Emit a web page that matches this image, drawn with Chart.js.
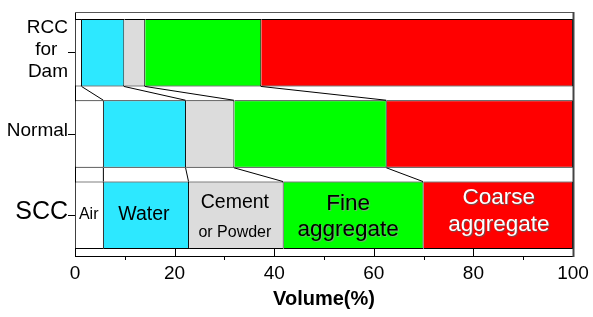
<!DOCTYPE html>
<html>
<head>
<meta charset="utf-8">
<script src="https://cdn.jsdelivr.net/npm/chart.js@4.4.1/dist/chart.umd.min.js"></script>
<style>
  html, body { margin: 0; padding: 0; background: #fff; }
  #wrap { width: 593px; height: 317px; position: relative; }
</style>
</head>
<body>
<div id="wrap"><canvas id="c"></canvas></div>
<script>
// ---- data ----
const categories = [["RCC", "for", "Dam"], "Normal", "SCC"];
const airVals    = [1.4, 5.8, 5.8];
const waterVals  = [8.5, 16.5, 17.1];
const cementVals = [4.2, 9.7, 19.0];
const fineVals   = [23.3, 30.6, 28.1];
const coarseVals = [62.6, 37.4, 30.0];
const seriesNames = ["Air", "Water", "Cement or Powder", "Fine aggregate", "Coarse aggregate"];
const xTickStep = 20;
const xMinorStep = 10;
const axisTitle = "Volume(%)";

const FONT = "'Liberation Sans', Arial, sans-serif";

// inline labels for the SCC bar
const segLabels = [
  { lines: ["Air"], sizes: [16], dy: [4], dx: -1, color: "#000", shadow: null },
  { lines: ["Water"], sizes: [19.5], dy: [4.5], dx: -2.5, color: "#000", shadow: null },
  { lines: ["Cement", "or Powder"], sizes: [19.5, 16], dy: [-7, 22], dx: -1.5, color: "#000", shadow: null },
  { lines: ["Fine", "aggregate"], sizes: [22.5, 22.5], dy: [-5, 21], dx: -5.5, color: "#000", shadow: "rgba(150,150,150,0.8)" },
  { lines: ["Coarse", "aggregate"], sizes: [22.5, 22.5], dy: [-11, 16], dx: 0.5, color: "#fff", shadow: "rgba(90,90,90,0.9)" }
];

const decorPlugin = {
  id: "decor",
  afterDatasetsDraw(chart) {
    const ctx = chart.ctx;
    const nSets = chart.data.datasets.length;
    ctx.save();
    ctx.strokeStyle = "#000";
    ctx.lineWidth = 1;
    const nCat = chart.data.labels.length;
    for (let i = 0; i < nCat - 1; i++) {
      for (let d = 0; d < nSets - 1; d++) {
        const up = chart.getDatasetMeta(d).data[i];
        const lo = chart.getDatasetMeta(d).data[i + 1];
        const pu = up.getProps(["x", "y", "height"], true);
        const pl = lo.getProps(["x", "y", "height"], true);
        ctx.beginPath();
        ctx.moveTo(pu.x - 0.5, pu.y + pu.height / 2);
        ctx.lineTo(pl.x - 0.5, pl.y - pl.height / 2);
        ctx.stroke();
      }
    }
    const idx = nCat - 1;
    for (let d = 0; d < nSets; d++) {
      const el = chart.getDatasetMeta(d).data[idx];
      const p = el.getProps(["x", "y", "base"], true);
      const lab = segLabels[d];
      const cx = (p.x + p.base) / 2 + lab.dx;
      ctx.textAlign = "center";
      ctx.textBaseline = "alphabetic";
      lab.lines.forEach((t, k) => {
        ctx.font = lab.sizes[k] + "px " + FONT;
        if (lab.shadow) {
          ctx.shadowColor = lab.shadow;
          ctx.shadowOffsetX = 1;
          ctx.shadowOffsetY = 1;
          ctx.shadowBlur = 1;
        } else {
          ctx.shadowColor = "transparent";
          ctx.shadowOffsetX = 0;
          ctx.shadowOffsetY = 0;
          ctx.shadowBlur = 0;
        }
        ctx.fillStyle = lab.color;
        ctx.fillText(t, cx, p.y + lab.dy[k]);
      });
    }
    ctx.restore();
  },
  afterDraw(chart) {
    const ctx = chart.ctx;
    const a = chart.chartArea;
    const xs = chart.scales.x;
    ctx.save();
    ctx.strokeStyle = "#555";
    ctx.lineWidth = 1;
    ctx.beginPath();
    ctx.moveTo(a.left, Math.round(a.top) + 0.5);
    ctx.lineTo(a.right, Math.round(a.top) + 0.5);
    ctx.stroke();
    ctx.lineWidth = 2;
    ctx.strokeStyle = "#444";
    ctx.beginPath();
    ctx.moveTo(Math.round(a.right) + 0.5, a.top);
    ctx.lineTo(Math.round(a.right) + 0.5, a.bottom + 1);
    ctx.stroke();
    ctx.lineWidth = 1;
    ctx.strokeStyle = "#000";
    const yb = Math.round(a.bottom);
    for (let v = xs.min + xMinorStep; v < xs.max; v += xMinorStep) {
      const px = Math.round(xs.getPixelForValue(v)) + 0.5;
      ctx.beginPath();
      if (Math.round(v) % xTickStep === 0) {
        ctx.moveTo(px, yb);
        ctx.lineTo(px, yb - 7);
      } else {
        ctx.moveTo(px, yb);
        ctx.lineTo(px, yb + 4);
      }
      ctx.stroke();
    }
    ctx.restore();
  }
};

const colors = ["#ffffff", "#2de8ff", "#dcdcdc", "#00ff00", "#ff0000"];
const seriesVals = [airVals, waterVals, cementVals, fineVals, coarseVals];

new Chart(document.getElementById("c"), {
  type: "bar",
  data: {
    labels: categories,
    datasets: seriesVals.map((vals, i) => ({
      label: seriesNames[i],
      data: vals,
      backgroundColor: colors[i],
      borderColor: "#000",
      borderWidth: 1,
      borderSkipped: "start",
      inflateAmount: 0,
      categoryPercentage: 1,
      barPercentage: 0.83
    }))
  },
  options: {
    indexAxis: "y",
    responsive: true,
    maintainAspectRatio: false,
    animation: false,
    events: [],
    layout: { padding: { top: 12, right: 20, left: 0, bottom: 0 } },
    plugins: { legend: { display: false }, tooltip: { enabled: false } },
    scales: {
      x: {
        type: "linear",
        stacked: true,
        min: 0,
        max: 100,
        afterFit(s) { s.height = 61; s.paddingLeft = 0; s.paddingRight = 0; },
        ticks: {
          stepSize: xTickStep,
          padding: 6,
          color: "#000",
          font: { family: FONT, size: 19 }
        },
        grid: { display: true, drawOnChartArea: false, drawTicks: false, color: "rgba(0,0,0,0)" },
        border: { display: true, color: "#000", width: 1 },
        title: {
          display: true,
          text: axisTitle,
          color: "#000",
          font: { family: FONT, size: 20, weight: "bold" },
          padding: { top: 0, bottom: 6 }
        }
      },
      y: {
        stacked: true,
        afterFit(s) { s.width = 75; s.paddingTop = 0; s.paddingBottom = 0; },
        ticks: {
          crossAlign: "near",
          padding: 0,
          labelOffset: -3,
          color: "#000",
          font: (c) => ({ family: FONT, size: c.index === 2 ? 25 : 19, lineHeight: 1.17 }),
          callback(value) {
            const l = this.getLabelForValue(value);
            return Array.isArray(l) ? l.map(s => s === "for" ? "for\u00a0\u00a0" : s) : l;
          }
        },
        grid: { display: true, drawOnChartArea: false, drawTicks: true, tickLength: 7, offset: false, color: "#000" },
        border: { display: true, color: "#000", width: 1 }
      }
    }
  },
  plugins: [decorPlugin]
});
</script>
</body>
</html>
